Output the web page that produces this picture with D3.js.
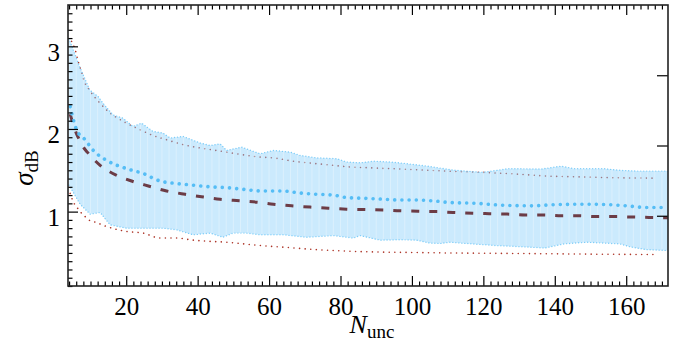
<!DOCTYPE html>
<html>
<head>
<meta charset="utf-8">
<script src="https://cdn.jsdelivr.net/npm/d3@7"></script>
<style>
  body { margin: 0; background: #fff; }
  svg text { font-family: "Liberation Serif", "DejaVu Serif", serif; fill: #000; }
</style>
</head>
<body>
<div id="chart"></div>
<script>
// data: [N_unc, sigma_dB]
const bandUpper = [
  [4, 3.09], [7, 2.75], [9.8, 2.47], [12.2, 2.39], [13.5, 2.31], [16.3, 2.17], [19.1, 2.13],
  [21.9, 2.03], [24.3, 2.07], [27.5, 1.97], [30.3, 1.95], [32.3, 1.89], [35.9, 1.91],
  [40.7, 1.83], [43.5, 1.80], [46.3, 1.82], [48.1, 1.74], [52.3, 1.78], [57.5, 1.70],
  [61.2, 1.74], [65.9, 1.72], [68.7, 1.68], [73.4, 1.65], [79, 1.64], [81.7, 1.60],
  [85.5, 1.59], [89.2, 1.61], [94, 1.60], [98.6, 1.58], [104.3, 1.55], [108.9, 1.52],
  [112, 1.50], [119.8, 1.475], [127.1, 1.52], [136.3, 1.515], [141.8, 1.55], [145.4, 1.52],
  [153.6, 1.52], [158.2, 1.50], [162.8, 1.49], [171.7, 1.49]
];
const bandLower = [
  [4, 1.32], [7.1, 1.09], [9.9, 0.97], [12.7, 0.99], [15.5, 0.84], [20.1, 0.80], [25.7, 0.80],
  [30.3, 0.80], [34.1, 0.78], [38.7, 0.72], [43.5, 0.74], [47.1, 0.69], [49.9, 0.74],
  [53.7, 0.74], [57.5, 0.72], [64, 0.72], [70.5, 0.69], [78, 0.71], [83.6, 0.68],
  [85.5, 0.71], [91.1, 0.655], [96.7, 0.66], [101.3, 0.655], [105, 0.62], [107.9, 0.615],
  [110.7, 0.63], [115.2, 0.615], [123.5, 0.59], [130.8, 0.575], [137.2, 0.56], [142.6, 0.61],
  [149, 0.63], [158.2, 0.61], [161, 0.575], [165.6, 0.54], [171.7, 0.53]
];
const meanMeasured = [
  [4.3, 2.27], [6.1, 1.99], [8.5, 1.87], [10.8, 1.74], [14.5, 1.62], [20.1, 1.52], [24.8, 1.46],
  [29.5, 1.37], [34.1, 1.34], [38.8, 1.32], [43.5, 1.30], [48.1, 1.29], [52.8, 1.27],
  [57.5, 1.25], [64, 1.25], [67.7, 1.23], [73.3, 1.21], [78, 1.20], [81.7, 1.17],
  [87.3, 1.16], [92, 1.15], [96.7, 1.14], [101.3, 1.14], [106, 1.13], [110.7, 1.11],
  [118, 1.10], [124.4, 1.08], [133.5, 1.07], [138.1, 1.08], [147.3, 1.09], [154.6, 1.085],
  [160.1, 1.07], [165.6, 1.05], [171.7, 1.05]
];
const meanTheory = [
  [4.3, 2.18], [5.2, 2.05], [6.1, 1.94], [7, 1.86], [8, 1.78], [9.1, 1.72], [12.7, 1.56],
  [17.3, 1.44], [21.5, 1.37], [26.2, 1.31], [31.3, 1.25], [36.5, 1.21], [41.1, 1.18],
  [46.3, 1.15], [51.9, 1.13], [57.5, 1.11], [61.2, 1.09], [66.3, 1.07], [71.5, 1.055],
  [76.6, 1.04], [81.7, 1.03], [86.9, 1.025], [92, 1.02], [96.7, 1.01], [101.8, 1.005],
  [107, 1.0], [111.5, 0.99], [117.1, 0.98], [121.6, 0.975], [126.7, 0.97], [131.7, 0.96],
  [136.7, 0.96], [141.8, 0.95], [146.8, 0.95], [151.4, 0.94], [156.4, 0.94], [161.4, 0.935],
  [166.4, 0.93], [171.7, 0.925]
];
const upperTheory = [
  [4.7, 3.06], [5.7, 2.96], [6.6, 2.81], [7.5, 2.69], [8.3, 2.57], [9.4, 2.49], [12.7, 2.31],
  [15, 2.21], [20.1, 2.07], [23.9, 1.99], [27.6, 1.92], [31.3, 1.87], [36, 1.81], [40.7, 1.77],
  [45.3, 1.74], [50.9, 1.70], [57.5, 1.66], [61.2, 1.65], [66.8, 1.61], [73.3, 1.58],
  [78, 1.56], [82.7, 1.54], [88.3, 1.53], [93.9, 1.52], [99.5, 1.51], [105.1, 1.50],
  [109.7, 1.49], [119.8, 1.475], [129, 1.455], [138.1, 1.43], [147.3, 1.42], [156.4, 1.41],
  [167.4, 1.405]
];
const lowerTheory = [
  [4.3, 1.22], [5.4, 1.10], [6.4, 1.04], [7.3, 0.99], [8.5, 0.94], [9.9, 0.89], [10.8, 0.88],
  [14.5, 0.82], [20.1, 0.76], [24.8, 0.74], [29.5, 0.68], [34.1, 0.68], [38.8, 0.655],
  [43.5, 0.64], [48.1, 0.63], [52.8, 0.61], [57.5, 0.59], [64, 0.57], [73.3, 0.54],
  [82.7, 0.52], [92, 0.51], [101.3, 0.505], [109.7, 0.50], [124.4, 0.495], [138.1, 0.49],
  [151.8, 0.485], [168.3, 0.48]
];
const xMajor = [20, 40, 60, 80, 100, 120, 140, 160];
const yMajor = [1, 2, 3];
const rightMajor = [1, 2, 3];

const FONT = '"Liberation Serif", "Times New Roman", "DejaVu Serif", serif';

const margin = { top: 5, right: 17, bottom: 59, left: 68 },
  width = 685 - margin.left - margin.right,
  height = 345 - margin.top - margin.bottom;

const x = d3.scaleLinear().domain([3.7, 171.7]).range([0, width]);
const y = d3.scaleLinear().domain([0.1, 3.5]).range([height, 0]);
// unlabeled twin axis on the right
const yRight = d3.scaleLinear().domain([0, 4]).range([height, 0]);

const xMinor = d3.range(4, 172, 2).filter((d) => d % 20 !== 0);
const yMinor = d3.range(1, 35).map((d) => d / 10).filter((d) => Math.abs(d - Math.round(d)) > 1e-6);

const svg = d3
  .select('#chart')
  .append('svg')
  .attr('width', 685)
  .attr('height', 345);

svg.append('defs')
  .append('clipPath')
  .attr('id', 'plot-clip')
  .append('rect')
  .attr('width', width)
  .attr('height', height);

const g = svg.append('g').attr('transform', 'translate(' + margin.left + ',' + margin.top + ')');
const plot = g.append('g').attr('clip-path', 'url(#plot-clip)');

const line = d3.line().x((d) => x(d[0])).y((d) => y(d[1]));
const smooth = d3.line().x((d) => x(d[0])).y((d) => y(d[1])).curve(d3.curveMonotoneX);

// theory bounds first, band drawn over them with alpha
[upperTheory, lowerTheory].forEach((bound) => {
  plot.append('path')
    .datum(bound)
    .attr('d', smooth)
    .attr('fill', 'none')
    .attr('stroke', '#ad3528')
    .attr('stroke-width', 1.6)
    .attr('stroke-linecap', 'round')
    .attr('stroke-dasharray', '0.01,5.6');
});

// spread band
const bandPoly = bandUpper.concat(bandLower.slice().reverse());
plot.append('clipPath')
  .attr('id', 'band-clip')
  .append('path')
  .attr('d', line(bandPoly) + 'Z');

plot.append('path')
  .attr('d', line(bandPoly) + 'Z')
  .attr('fill', '#87cefa')
  .attr('fill-opacity', 0.43)
  .attr('stroke', 'none');

// faint seams between band segments
plot.append('g')
  .attr('clip-path', 'url(#band-clip)')
  .selectAll('line')
  .data(d3.range(4, 172, 2))
  .join('line')
  .attr('x1', (d) => x(d))
  .attr('x2', (d) => x(d))
  .attr('y1', 0)
  .attr('y2', height)
  .attr('stroke', '#ffffff')
  .attr('stroke-opacity', 0.4)
  .attr('stroke-width', 0.8);

[bandUpper, bandLower].forEach((edge) => {
  plot.append('path')
    .datum(edge)
    .attr('d', line)
    .attr('fill', 'none')
    .attr('stroke', '#7ecdf8')
    .attr('stroke-width', 1.4)
    .attr('stroke-linecap', 'round')
    .attr('stroke-dasharray', '0.01,3');
});

// theory mean (dashed)
plot.append('path')
  .datum(meanTheory)
  .attr('d', smooth)
  .attr('fill', 'none')
  .attr('stroke', '#6c3c46')
  .attr('stroke-width', 3)
  .attr('stroke-dasharray', '8,10');

// measured mean (dotted)
plot.append('path')
  .datum(meanMeasured)
  .attr('d', smooth)
  .attr('fill', 'none')
  .attr('stroke', '#55bdf5')
  .attr('stroke-width', 3.6)
  .attr('stroke-linecap', 'round')
  .attr('stroke-dasharray', '0.01,7.2');

// axes, ticks pointing inward
function clean(sel) {
  sel.attr('font-family', FONT);
  sel.select('.domain').remove();
  sel.selectAll('line').attr('stroke', '#000').attr('stroke-width', 1.2);
}

g.append('g').attr('transform', 'translate(0,' + height + ')')
  .call(d3.axisBottom(x).tickValues(xMinor).tickSize(-4.5).tickFormat(''))
  .call(clean);
g.append('g').attr('transform', 'translate(0,' + height + ')')
  .call(d3.axisBottom(x).tickValues(xMajor).tickSize(-10).tickPadding(11).tickFormat(d3.format('d')))
  .call(clean)
  .selectAll('text')
  .attr('font-family', FONT)
  .attr('font-size', 25);
g.append('g')
  .call(d3.axisTop(x).tickValues(xMinor).tickSize(-4.5).tickFormat(''))
  .call(clean);
g.append('g')
  .call(d3.axisTop(x).tickValues(xMajor).tickSize(-10).tickFormat(''))
  .call(clean);

g.append('g')
  .call(d3.axisLeft(y).tickValues(yMinor).tickSize(-4.5).tickFormat(''))
  .call(clean);
g.append('g')
  .call(d3.axisLeft(y).tickValues(yMajor).tickSize(-10).tickPadding(8).tickFormat(d3.format('d')))
  .call(clean)
  .selectAll('text')
  .attr('font-family', FONT)
  .attr('font-size', 25)
  .attr('dy', '0.55em');

g.append('g').attr('transform', 'translate(' + width + ',0)')
  .call(d3.axisRight(yRight).tickValues(rightMajor).tickSize(-11).tickFormat(''))
  .call(clean);

// frame
g.append('rect')
  .attr('width', width)
  .attr('height', height)
  .attr('fill', 'none')
  .attr('stroke', '#222')
  .attr('stroke-width', 1.6);

// axis labels
const xl = svg.append('text')
  .attr('font-family', FONT)
  .attr('x', margin.left + width / 2 + 4)
  .attr('y', 333)
  .attr('text-anchor', 'middle');
xl.append('tspan').attr('font-style', 'italic').attr('font-size', 26).text('N');
xl.append('tspan').attr('font-size', 19).attr('dy', 5).text('unc');

const yl = svg.append('text')
  .attr('font-family', FONT)
  .attr('transform', 'translate(33,168) rotate(-90)')
  .attr('text-anchor', 'middle');
yl.append('tspan').attr('font-style', 'italic').attr('font-size', 27).text('σ');
yl.append('tspan').attr('font-size', 19).attr('dy', 5).text('dB');
</script>
</body>
</html>
